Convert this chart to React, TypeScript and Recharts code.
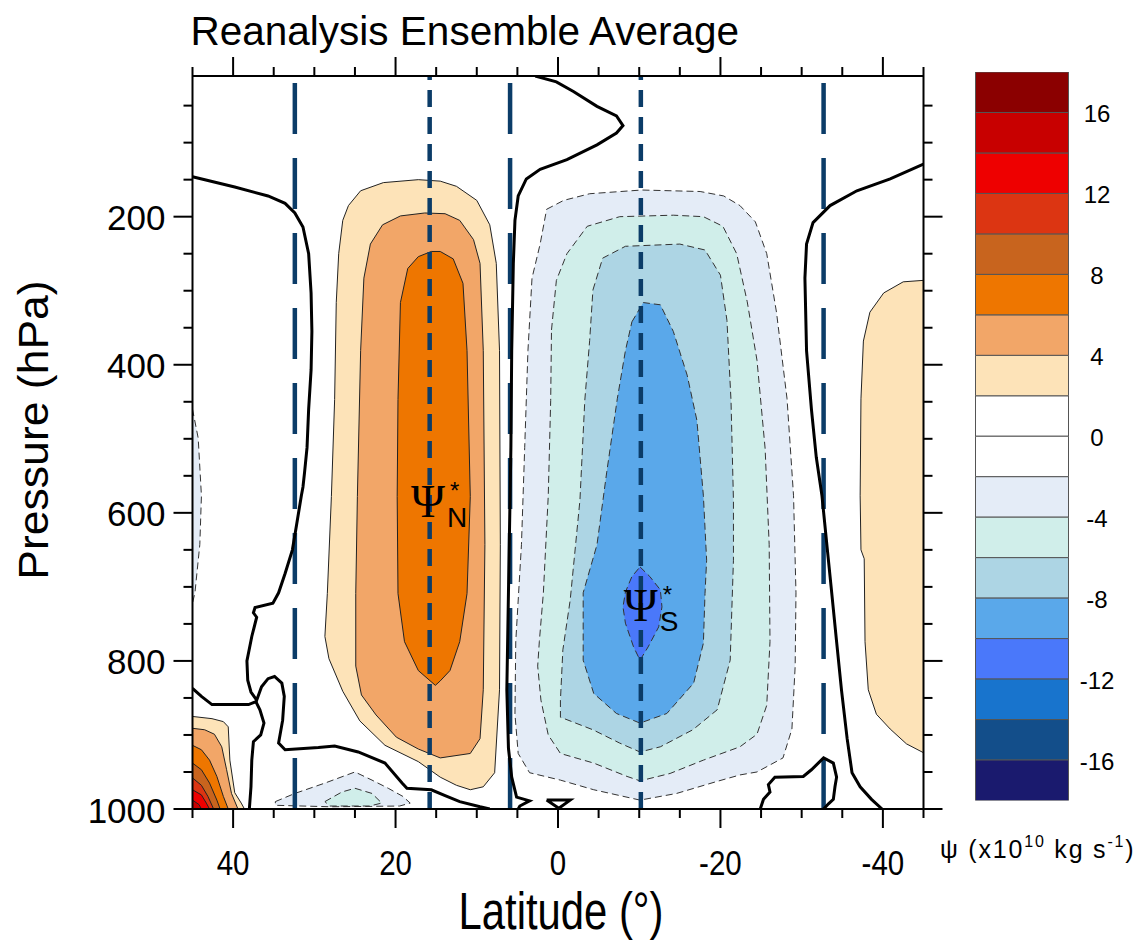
import {
  Area,
  Bar,
  BarChart,
  ComposedChart,
  Label,
  Line,
  ReferenceDot,
  ReferenceLine,
  XAxis,
  YAxis,
} from "recharts";

type Pt = [number, number]; // [latitude, pressure hPa]

const FONT = "'Liberation Sans', Arial, Helvetica, sans-serif";
const SERIF = "'Liberation Serif', 'DejaVu Serif', serif";

// colour scale: box i spans levelBounds[i]..levelBounds[i + 1]
const levelBounds = [-18, -16, -14, -12, -10, -8, -6, -4, -2, 0, 2, 4, 6, 8, 10, 12, 14, 16, 18];
const levelColors = [
  "#1a1a6e", "#134e8a", "#1874cd", "#4a78fa", "#5aa8ea", "#add5e4", "#d0eeea", "#e4ecf7", "#ffffff",
  "#ffffff", "#fde3b8", "#f2a668", "#ee7600", "#c8641e", "#dc3512", "#ee0000", "#c80000", "#8b0000",
];
const colorbarTicks = [-16, -12, -8, -4, 0, 4, 8, 12, 16];

const latTicks = [45, 40, 35, 30, 25, 20, 15, 10, 5, 0, -5, -10, -15, -20, -25, -30, -35, -40, -45];
const presTicks = [50, 100, 150, 200, 250, 300, 350, 400, 450, 500, 550, 600, 650, 700, 750, 800, 850, 900, 950, 1000];

// filled contours (closed rings), [lat, p]
const northPos2: Pt[] = [
  [25.8, 185], [24.3, 165], [21.5, 154], [17.2, 150], [14.5, 152], [12.5, 159], [10.0, 178], [8.4, 211],
  [7.6, 263], [7.2, 381], [7.1, 643], [7.2, 839], [7.8, 951], [9.2, 970], [10.8, 974], [12.5, 968],
  [14.5, 957], [17.2, 936], [21.3, 914], [24.4, 881], [26.5, 841], [28.2, 797], [28.7, 767], [28.4, 709],
  [27.9, 578], [27.5, 447], [27.3, 316], [27.0, 250], [26.5, 205],
];
const northPos4: Pt[] = [
  [21.6, 211], [19.4, 199], [16.4, 195], [13.9, 196], [12.1, 205], [10.4, 231], [9.6, 263], [9.2, 381],
  [9.0, 643], [9.2, 839], [9.6, 905], [10.8, 925], [14.5, 931], [17.2, 919], [19.9, 903], [22.4, 873],
  [24.2, 846], [24.9, 807], [24.9, 709], [24.7, 578], [24.3, 381], [23.9, 283], [23.1, 237],
];
const northPos6: Pt[] = [
  [17.2, 254], [15.6, 247], [14.5, 247], [12.9, 257], [11.7, 290], [11.2, 381], [10.8, 578], [11.2, 709],
  [12.1, 774], [13.3, 813], [14.5, 827], [15.1, 833], [17.2, 813], [18.9, 774], [19.7, 709], [19.8, 578],
  [19.7, 447], [19.4, 316], [18.5, 270],
];

const southNeg2: Pt[] = [
  [1.4, 190], [-0.7, 178], [-3.9, 169], [-10.3, 164], [-17.5, 166], [-20.4, 172], [-22.4, 185], [-24.3, 207],
  [-25.7, 250], [-26.9, 329], [-28.2, 446], [-29.0, 577], [-29.3, 708], [-29.2, 807], [-28.8, 892],
  [-27.7, 931], [-24.5, 950], [-22.4, 954], [-19.5, 963], [-14.6, 979], [-10.1, 988], [-4.4, 974],
  [-0.3, 961], [3.5, 951], [4.9, 925], [5.3, 872], [5.2, 774], [4.5, 643], [4.1, 512], [3.7, 381],
  [3.2, 283], [2.2, 237],
];
const southNeg4: Pt[] = [
  [0.8, 353], [0.2, 286], [-1.1, 250], [-3.6, 213], [-7.6, 200], [-14.2, 198], [-17.9, 200], [-20.3, 213],
  [-22.0, 250], [-23.3, 315], [-24.5, 394], [-25.5, 513], [-26.0, 643], [-26.1, 774], [-25.7, 860],
  [-24.5, 899], [-22.4, 916], [-17.9, 934], [-13.8, 952], [-10.1, 962], [-8.5, 956], [-4.4, 938],
  [-0.3, 925], [1.2, 900], [2.1, 853], [2.5, 807], [2.3, 774], [1.8, 708], [1.2, 577], [0.9, 448],
];
const southNeg6: Pt[] = [
  [-4.3, 299], [-5.5, 256], [-8.3, 240], [-15.0, 237], [-18.1, 245], [-20.0, 279], [-20.8, 340],
  [-21.3, 448], [-21.6, 583], [-21.6, 664], [-21.2, 799], [-19.6, 866], [-16.6, 893], [-12.6, 916],
  [-10.1, 923], [-7.6, 911], [-4.3, 893], [-0.3, 876], [-0.3, 853], [-0.6, 785], [-1.5, 718], [-2.7, 583],
  [-3.3, 448], [-3.9, 367],
];
const southNeg8: Pt[] = [
  [-9.1, 342], [-10.5, 316], [-12.6, 319], [-14.2, 355], [-15.9, 414], [-17.1, 475], [-17.9, 577],
  [-18.3, 664], [-18.1, 709], [-17.9, 776], [-16.7, 830], [-13.4, 871], [-10.1, 884], [-7.2, 871],
  [-4.4, 844], [-3.1, 799], [-3.1, 708], [-4.8, 643], [-6.0, 545], [-7.3, 446], [-8.3, 381],
];
const southNeg10: Pt[] = [
  [-10.1, 673], [-11.3, 686], [-12.6, 704], [-12.8, 727], [-12.4, 754], [-11.1, 781], [-10.1, 799],
  [-9.3, 781], [-8.3, 749], [-8.0, 727], [-8.3, 707], [-9.1, 686],
];

const farSouthPos2: Pt[] = [
  [-45, 286], [-42.5, 288], [-40.1, 303], [-38.4, 329], [-37.6, 368], [-37.3, 446], [-37.2, 577],
  [-37.3, 650], [-37.7, 662], [-37.8, 774], [-38.2, 839], [-39.2, 872], [-40.9, 892], [-42.9, 912], [-45, 924],
];

const cornerPos2: Pt[] = [[45, 875], [42.6, 878], [41.2, 882], [40.6, 889], [40.4, 934], [39.8, 978], [39.0, 992], [38.6, 1000], [45, 1000]];
const cornerPos4: Pt[] = [[45, 891], [43.5, 893], [42.3, 899], [41.4, 916], [40.8, 947], [40.2, 979], [39.4, 1000], [45, 1000]];
const cornerPos6: Pt[] = [[45, 914], [43.9, 920], [42.9, 934], [42.0, 956], [41.2, 983], [40.6, 1000], [45, 1000]];
const cornerPos8: Pt[] = [[45, 938], [43.9, 947], [42.9, 965], [42.0, 988], [41.6, 1000], [45, 1000]];
const cornerPos10: Pt[] = [[45, 958], [43.9, 968], [43.1, 983], [42.4, 1000], [45, 1000]];
const cornerPos12: Pt[] = [[45, 974], [43.9, 981], [43.3, 992], [42.9, 1000], [45, 1000]];
const cornerPos14: Pt[] = [[45, 988], [44.2, 994], [43.9, 1000], [45, 1000]];

const surfaceNeg2: Pt[] = [
  [34.8, 990], [32.4, 979], [28.7, 965], [25.0, 950], [22.9, 961], [20.9, 972], [19.1, 983], [18.2, 992],
  [19.5, 996], [28.0, 997], [34.8, 995],
];
const surfaceNeg4: Pt[] = [[28.7, 990], [26.6, 977], [25.0, 972], [22.9, 979], [21.7, 992], [23.2, 996], [28.1, 996]];
const edgeNeg2: Pt[] = [[45, 460], [44.3, 499], [43.9, 577], [44.1, 643], [44.7, 708], [45, 722]];

// zero contour (thick black lines)
const zeroNorth: Pt[] = [
  [45, 146], [39.8, 160], [35.7, 172], [33.6, 182], [32.4, 195], [31.4, 214], [30.7, 250], [30.4, 303],
  [30.3, 355], [30.4, 407], [30.7, 460], [30.9, 512], [31.2, 545], [31.4, 565], [31.6, 577], [32.2, 617],
  [32.7, 650], [33.6, 682], [34.4, 708], [35.1, 722], [37.3, 728], [37.5, 735], [37.1, 741], [37.7, 767],
  [38.3, 800], [38.2, 826], [37.8, 842], [37.1, 853], [36.5, 835], [35.7, 824], [34.9, 821], [34.0, 830],
  [33.7, 848], [33.9, 880], [34.4, 911], [33.6, 920], [29.5, 917], [27.5, 915], [24.6, 923], [21.3, 938],
  [19.2, 965], [18.6, 972], [15.6, 974], [13.9, 982], [12.1, 990], [9.6, 997], [8.4, 1000],
];
const zeroCorner: Pt[] = [
  [45, 837], [43.9, 848], [42.6, 859], [38.1, 859], [37.2, 855], [36.7, 866], [36.2, 884], [36.6, 900],
  [37.5, 909], [37.7, 934], [37.8, 970], [38.0, 1000],
];
const zeroEquator: Pt[] = [
  [2.8, 10], [0.2, 18], [-1.9, 31], [-4.8, 51], [-7.2, 64], [-8.0, 77], [-7.2, 87], [-4.8, 103], [-1.1, 123],
  [2.2, 136], [3.9, 149], [4.9, 172], [5.3, 205], [5.5, 263], [5.7, 381], [5.8, 512], [5.9, 577], [6.1, 708],
  [6.3, 839], [6.1, 918], [5.7, 957], [5.1, 984], [3.5, 989], [4.7, 996], [4.9, 1000],
];
const zeroEquatorLoop: Pt[] = [[1.4, 988], [-1.5, 988], [-0.1, 999], [1.4, 988]];
const zeroSouth: Pt[] = [
  [-45, 129], [-40.9, 149], [-36.8, 165], [-33.5, 185], [-31.4, 208], [-30.6, 237], [-30.4, 283],
  [-30.6, 381], [-31.2, 460], [-31.8, 525], [-32.5, 577], [-33.1, 643], [-33.7, 708], [-34.3, 774],
  [-34.9, 839], [-35.6, 905], [-36.2, 951], [-37.2, 970], [-38.6, 987], [-39.9, 1000],
];
const zeroSouthLoop: Pt[] = [
  [-24.9, 1000], [-25.3, 987], [-26.1, 977], [-25.9, 967], [-26.7, 957], [-30.2, 956], [-31.2, 947],
  [-32.7, 931], [-33.9, 938], [-34.3, 957], [-34.1, 970], [-33.9, 987], [-33.3, 993], [-32.7, 1000],
];

// dashed markers: cell edges (long dash) and cell maxima (short dash)
const cellEdgeLats = [32.4, 5.9, -32.7];
const cellMaxLats = [15.8, -10.2];
const psiMarks = [
  { lat: 16.0, p: 605, sub: "N" },
  { lat: -10.2, p: 746, sub: "S" },
];

const filledContours = [
  { pts: northPos2, level: 2 },
  { pts: northPos4, level: 4 },
  { pts: northPos6, level: 6 },
  { pts: southNeg2, level: -2 },
  { pts: southNeg4, level: -4 },
  { pts: southNeg6, level: -6 },
  { pts: southNeg8, level: -8 },
  { pts: southNeg10, level: -10 },
  { pts: farSouthPos2, level: 2 },
  { pts: cornerPos2, level: 2 },
  { pts: cornerPos4, level: 4 },
  { pts: cornerPos6, level: 6 },
  { pts: cornerPos8, level: 8 },
  { pts: cornerPos10, level: 10 },
  { pts: cornerPos12, level: 12 },
  { pts: cornerPos14, level: 14 },
  { pts: surfaceNeg2, level: -2 },
  { pts: surfaceNeg4, level: -4 },
  { pts: edgeNeg2, level: -2 },
];
const zeroLines = [zeroNorth, zeroCorner, zeroEquator, zeroEquatorLoop, zeroSouth, zeroSouthLoop];

const ring = (pts: Pt[]) => [...pts, pts[0]].map(([lat, p]) => ({ lat, p }));
const path = (pts: Pt[]) => pts.map(([lat, p]) => ({ lat, p }));
const colorFor = (level: number) => levelColors[level > 0 ? (level + 18) / 2 : (level + 16) / 2];

// colour bar: one stacked column, positives up from 0 and negatives down
const colorbarRow: Record<string, number | string> = { name: "psi" };
levelColors.forEach((_, i) => {
  const lo = levelBounds[i];
  const hi = levelBounds[i + 1];
  colorbarRow[`b${i}`] = hi > 0 ? hi - lo : lo - hi;
});
const colorbarOrder = [9, 10, 11, 12, 13, 14, 15, 16, 17, 8, 7, 6, 5, 4, 3, 2, 1, 0];

const bottomTick = (props: any) => {
  const { x, y, payload } = props;
  const major = payload.value % 20 === 0;
  return (
    <g>
      <line x1={x} y1={y} x2={x} y2={y + (major ? 19 : 9)} stroke="#000" strokeWidth={2} />
      {major && (
        <text transform={`translate(${x},${y + 66}) scale(0.82,1)`} textAnchor="middle" fontSize={36} fontFamily={FONT} fill="#000">
          {payload.value}
        </text>
      )}
    </g>
  );
};
const topTick = (props: any) => {
  const { x, y, payload } = props;
  const major = payload.value % 20 === 0;
  return <line x1={x} y1={y} x2={x} y2={y - (major ? 19 : 9)} stroke="#000" strokeWidth={2} />;
};
const leftTick = (props: any) => {
  const { x, y, payload } = props;
  const major = payload.value % 200 === 0;
  return (
    <g>
      <line x1={x} y1={y} x2={x - (major ? 19 : 9)} y2={y} stroke="#000" strokeWidth={2} />
      {major && (
        <text x={x - 27} y={y + 1} textAnchor="end" dominantBaseline="central" fontSize={35} fontFamily={FONT} fill="#000">
          {payload.value}
        </text>
      )}
    </g>
  );
};
const rightTick = (props: any) => {
  const { x, y, payload } = props;
  const major = payload.value % 200 === 0;
  return <line x1={x} y1={y} x2={x + (major ? 19 : 9)} y2={y} stroke="#000" strokeWidth={2} />;
};
const colorbarTick = (props: any) => {
  const { x, y, payload } = props;
  return (
    <text x={x + 29} y={y + 1} textAnchor="middle" dominantBaseline="central" fontSize={24} fontFamily={FONT} fill="#000">
      {payload.value}
    </text>
  );
};

const PsiMark = ({ cx, cy, sub }: { cx: number; cy: number; sub: string }) => (
  <g>
    <text x={cx} y={cy} textAnchor="middle" fontSize={46} fontFamily={SERIF} fill="#000">
      Ψ
    </text>
    <text x={cx + 22} y={cy - 18} fontSize={24} fontFamily={FONT} fill="#000">
      *
    </text>
    <text x={cx + 19} y={cy + 10} fontSize={28} fontFamily={FONT} fill="#000">
      {sub}
    </text>
  </g>
);

export default function App() {
  return (
    <div style={{ position: "absolute", left: 0, top: 0, width: 1140, height: 947, background: "#fff" }}>
      <div style={{ position: "absolute", left: 0, top: 0 }}>
        <ComposedChart width={1140} height={947} margin={{ top: 56, right: 196.5, bottom: 58, left: 72.5 }}>
          <XAxis
            xAxisId="b"
            dataKey="lat"
            type="number"
            domain={[-45, 45]}
            reversed
            allowDataOverflow
            ticks={latTicks}
            interval={0}
            tickSize={0}
            tickMargin={0}
            tickLine={false}
            tick={bottomTick}
            axisLine={{ stroke: "#000", strokeWidth: 2 }}
            height={80}
          >
            <Label
              content={(props: any) => {
                const vb = props.viewBox;
                return (
                  <text transform={`translate(${vb.x + vb.width / 2 + 3},${vb.y + 120}) scale(0.82,1)`} textAnchor="middle" fontSize={51} fontFamily={FONT} fill="#000">
                    Latitude (°)
                  </text>
                );
              }}
            />
          </XAxis>
          <XAxis
            xAxisId="t"
            orientation="top"
            dataKey="lat"
            type="number"
            domain={[-45, 45]}
            reversed
            allowDataOverflow
            ticks={latTicks}
            interval={0}
            tickSize={0}
            tickMargin={0}
            tickLine={false}
            tick={topTick}
            axisLine={{ stroke: "#000", strokeWidth: 2 }}
            height={20}
          >
            <Label
              content={(props: any) => {
                const vb = props.viewBox;
                return (
                  <text x={vb.x - 2} y={vb.y - 11} fontSize={40.5} fontFamily={FONT} fill="#000">
                    Reanalysis Ensemble Average
                  </text>
                );
              }}
            />
          </XAxis>
          <YAxis
            yAxisId="l"
            dataKey="p"
            type="number"
            domain={[10, 1000]}
            reversed
            allowDataOverflow
            ticks={presTicks}
            interval={0}
            tickSize={0}
            tickMargin={0}
            tickLine={false}
            tick={leftTick}
            axisLine={{ stroke: "#000", strokeWidth: 2 }}
            width={120}
          >
            <Label
              content={(props: any) => {
                const vb = props.viewBox;
                const cx = vb.x - 39.5;
                const cy = 430;
                return (
                  <text transform={`translate(${cx},${cy}) rotate(-90) scale(1.06,1)`} textAnchor="middle" dominantBaseline="central" fontSize={42} fontFamily={FONT} fill="#000">
                    Pressure (hPa)
                  </text>
                );
              }}
            />
          </YAxis>
          <YAxis
            yAxisId="r"
            orientation="right"
            type="number"
            domain={[10, 1000]}
            reversed
            allowDataOverflow
            ticks={presTicks}
            interval={0}
            tickSize={0}
            tickMargin={0}
            tickLine={false}
            tick={rightTick}
            axisLine={{ stroke: "#000", strokeWidth: 2 }}
            width={20}
          />

          {filledContours.map((c, i) => (
            <Area
              key={`fill-${i}`}
              xAxisId="b"
              yAxisId="l"
              data={ring(c.pts)}
              dataKey="p"
              type="linear"
              baseValue={1000}
              fill={colorFor(c.level)}
              fillOpacity={1}
              stroke={c.level > 0 ? "#222" : "#333"}
              strokeWidth={1}
              strokeDasharray={c.level > 0 ? undefined : "7 4"}
              dot={false}
              activeDot={false}
              isAnimationActive={false}
            />
          ))}

          {cellEdgeLats.map((lat) => (
            <ReferenceLine key={`edge-${lat}`} xAxisId="b" yAxisId="l" x={lat} stroke="#0b3c68" strokeWidth={4.5} strokeDasharray="51 24" />
          ))}
          {cellMaxLats.map((lat) => (
            <ReferenceLine key={`max-${lat}`} xAxisId="b" yAxisId="l" x={lat} stroke="#0b3c68" strokeWidth={4.5} strokeDasharray="17 10" />
          ))}

          {zeroLines.map((pts, i) => (
            <Line
              key={`zero-${i}`}
              xAxisId="b"
              yAxisId="l"
              data={path(pts)}
              dataKey="p"
              type="linear"
              stroke="#000"
              strokeWidth={3}
              dot={false}
              activeDot={false}
              isAnimationActive={false}
            />
          ))}

          {psiMarks.map((m) => (
            <ReferenceDot
              key={m.sub}
              xAxisId="b"
              yAxisId="l"
              x={m.lat}
              y={m.p}
              r={0}
              shape={(s: any) => <PsiMark cx={s.cx} cy={s.cy} sub={m.sub} />}
            />
          ))}
        </ComposedChart>
      </div>

      <div style={{ position: "absolute", left: 930, top: 0 }}>
        <BarChart
          width={210}
          height={947}
          data={[colorbarRow]}
          stackOffset="sign"
          barCategoryGap={0}
          barGap={0}
          margin={{ top: 72, right: 12, bottom: 146.5, left: 45.5 }}
        >
          <XAxis dataKey="name" type="category" hide />
          <YAxis
            orientation="right"
            type="number"
            domain={[-18, 18]}
            allowDataOverflow
            ticks={colorbarTicks}
            interval={0}
            tickSize={0}
            tickMargin={0}
            tickLine={false}
            axisLine={false}
            tick={colorbarTick}
            width={60}
          >
            <Label
              content={() => (
                <text x={10} y={858} fontSize={25} fontFamily={FONT} fill="#000" letterSpacing={1.8}>
                  ψ (x10
                  <tspan fontSize={16} dy={-11}>10</tspan>
                  <tspan dy={11}> kg s</tspan>
                  <tspan fontSize={16} dy={-11}>-1</tspan>
                  <tspan dy={11}>)</tspan>
                </text>
              )}
            />
          </YAxis>
          {colorbarOrder.map((i) => (
            <Bar
              key={`cb-${i}`}
              dataKey={`b${i}`}
              stackId="cb"
              fill={levelColors[i]}
              stroke="#555"
              strokeWidth={1}
              isAnimationActive={false}
            />
          ))}
        </BarChart>
      </div>
    </div>
  );
}
